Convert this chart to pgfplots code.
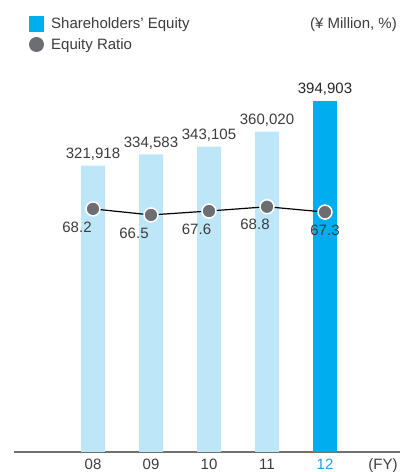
\documentclass[border=0pt]{standalone}
\usepackage{pgfplots}
\pgfplotsset{compat=1.18}
\usepackage{pgfplotstable}
\usepackage{fontspec}
\setmainfont{Liberation Sans}

\definecolor{barlight}{HTML}{BDE6F9}
\definecolor{barblue}{HTML}{00AEEF}
\definecolor{dotgray}{HTML}{6D6E71}
\definecolor{txt}{HTML}{3C3C3C}
\definecolor{axisgray}{HTML}{707070}
\definecolor{tickblue}{HTML}{1BA6E0}

\pgfplotstableread{
x  y      label
0  321918 321,918
1  334583 334,583
2  343105 343,105
3  360020 360,020
}\equityold
\pgfplotstableread{
x  y      label
4  394903 394,903
}\equitynew
\pgfplotstableread{
x  r     dx    label
0  68.2  -16   68.2
1  66.5  -17   66.5
2  67.6  -12.5 67.6
3  68.8  -12   68.8
4  67.3  0     67.3
}\ratio

\begin{document}
\begin{tikzpicture}
\useasboundingbox (0pt,0pt) rectangle (400pt,472pt);
\fontsize{15pt}{18pt}\selectfont

% equity bars
\begin{axis}[
  at={(14pt,20pt)}, anchor=south west,
  scale only axis, width=386pt, height=452pt,
  xmin=-1.3621, xmax=5.2931,
  ymin=0, ymax=508000,
  axis x line*=bottom, axis y line=none,
  x axis line style={draw=axisgray, line width=2pt, -},
  xtick={0,1,2,3,4,5},
  xticklabels={08,09,10,11,\textcolor{tickblue}{12},(FY)},
  major tick length=0pt,
  xticklabel style={font=\fontsize{15pt}{18pt}\selectfont, text=txt, anchor=base, yshift=-18pt},
  ytick=\empty,
  bar width=24pt,
  nodes near coords,
  point meta=explicit symbolic,
  every node near coord/.append style={font=\fontsize{15pt}{18pt}\selectfont, text=txt, anchor=south, inner sep=0pt, text depth=0pt, yshift=7pt},
]
\addplot[ybar, bar shift=0pt, fill=barlight, draw=none] table[x=x, y=y, meta=label] {\equityold};
\addplot[ybar, bar shift=0pt, fill=barblue, draw=none,
  every node near coord/.append style={text=black!85}] table[x=x, y=y, meta=label] {\equitynew};
\end{axis}

% equity ratio line
\begin{axis}[
  at={(14pt,20pt)}, anchor=south west,
  scale only axis, width=386pt, height=452pt,
  xmin=-1.3621, xmax=5.2931,
  ymin=0, ymax=126.8,
  hide axis,
  nodes near coords,
  point meta=explicit symbolic,
  visualization depends on={\thisrow{dx} \as \dx},
  every node near coord/.append style={font=\fontsize{15pt}{18pt}\selectfont, text=txt, anchor=center, inner sep=0pt, xshift=\dx pt, yshift=-18pt},
]
\addplot[black, line width=1.2pt, mark=*, mark size=7pt,
  mark options={fill=dotgray, draw=white, line width=1.5pt}]
  table[x=x, y=r, meta=label] {\ratio};
\end{axis}

% legend and unit
\fill[barblue] (29pt,440pt) rectangle (44pt,456pt);
\node[anchor=base west, inner sep=0pt, text=txt] at (51pt,443pt) {Shareholders’ Equity};
\fill[dotgray] (36.5pt,427.5pt) circle (7.5pt);
\node[anchor=base west, inner sep=0pt, text=txt] at (51pt,422pt) {Equity Ratio};
\node[anchor=base east, inner sep=0pt, text=txt] at (397pt,443pt) {(¥ Million, \%)};
\end{tikzpicture}
\end{document}
